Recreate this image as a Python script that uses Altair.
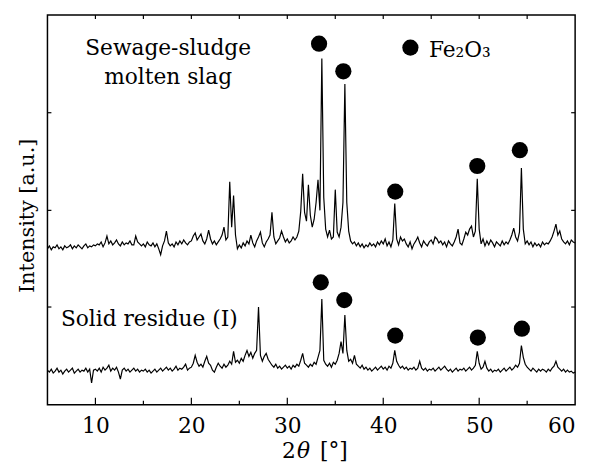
import altair as alt
import pandas as pd

# ---- data: 2-theta grid (start, step) and intensities ----
THETA_START = 5.0
THETA_STEP = 0.2

# Sewage-sludge molten slag (upper pattern), one row per 5 degrees
slag_rows = [
    [158,161,157,160,159,162,158,160,157,161,159,160,162,158,161,159,162,160,158,161,163,159,161,160,162],
    [161,163,162,165,160,164,171,163,166,162,164,167,163,161,165,162,164,163,166,162,162,171,165,163,161],
    [163,160,165,162,161,164,160,163,158,152,161,166,176,164,161,163,160,165,162,166,163,167,164,162,165],
    [166,171,174,167,170,173,166,163,168,177,168,163,166,162,165,168,172,180,167,170,226,180,212,172,158],
    [162,159,164,161,166,163,172,164,160,166,170,175,164,160,165,168,172,195,170,163,166,169,176,170,165],
    [168,164,166,170,167,170,176,196,234,195,186,223,192,180,188,205,228,197,351,210,178,170,177,168,170],
    [218,175,170,180,205,325,205,176,166,163,165,161,164,160,163,159,162,160,164,161,163,160,165,162,166],
    [163,168,161,165,160,167,204,168,162,170,166,168,163,160,165,158,163,166,170,164,160,166,163,161,165],
    [167,163,170,168,164,166,162,165,160,166,163,161,165,170,178,164,162,168,175,172,178,181,170,176,229],
    [178,163,168,161,166,162,167,164,160,165,163,161,166,162,165,163,167,172,179,170,166,175,240,178,163],
    [166,162,165,160,164,161,163,160,165,162,164,163,166,170,176,183,172,176,168,165,163,166,162,167,165,164],
]

# Solid residue (I) (lower pattern)
residue_rows = [
    [35,33,36,32,34,37,33,35,31,34,36,33,35,37,32,34,36,33,35,34,37,33,36,22,35],
    [36,34,37,33,38,35,37,40,34,37,35,38,33,26,35,37,34,36,33,35,37,34,36,33,35],
    [34,36,33,35,32,34,36,33,35,37,34,36,38,35,37,34,36,39,35,37,36,38,41,35,37],
    [38,42,50,43,39,41,38,44,49,42,40,35,33,38,42,39,37,41,38,40,44,41,54,43,45],
    [42,47,44,50,55,49,53,47,52,55,99,50,44,49,52,46,43,40,38,41,37,39,36,38,40],
    [37,39,36,40,38,41,39,45,52,42,40,38,41,39,43,41,48,55,107,45,41,39,42,38,43],
    [41,45,52,64,52,91,55,44,46,42,50,41,39,37,40,36,38,35,37,34,36,38,35,37,39],
    [36,38,35,39,37,42,55,44,40,37,39,36,38,35,37,36,38,35,37,44,37,35,37,34,36],
    [35,37,34,36,38,35,37,39,36,34,36,33,35,37,34,36,35,37,34,36,38,35,37,40,54],
    [42,36,38,44,37,34,36,33,35,34,36,33,35,37,34,36,38,35,37,40,38,42,60,48,41],
    [38,36,34,37,35,33,36,34,36,35,33,36,34,37,39,44,38,36,34,36,33,35,33,34,32,33],
]

# Fe2O3 markers (upper five, lower five, legend symbol)
marker_theta = [33.31, 35.84, 41.25, 49.80, 54.24, 33.49, 35.94, 41.25, 49.86, 54.45, 42.83]
marker_int = [366, 338, 216, 242, 258, 124, 106, 70, 68, 77, 362]

# annotations
center_labels = ["Sewage-sludge", "molten slag"]
center_theta = [17.58, 17.58]
center_int = [355, 325]
left_labels = ["Solid residue (I)", "Fe\u2082O\u2083"]
left_theta = [6.40, 44.76]
left_int = [80, 352]

x_tick_labels = [10, 20, 30, 40, 50, 60]
x_major_ticks = [10, 20, 30, 40, 50]
x_minor_ticks = [15, 25, 35, 45, 55]
x_top_ticks = [10, 15, 20, 25, 30, 35, 40, 45, 50, 55]
y_ticks = [99, 197, 296]

FONT = "DejaVu Serif"

slag = sum(slag_rows, [])
residue = sum(residue_rows, [])
theta = [round(THETA_START + THETA_STEP * i, 1) for i in range(len(slag))]

traces = pd.DataFrame({
    "theta": theta + theta,
    "intensity": slag + residue,
    "sample": ["slag"] * len(slag) + ["residue"] * len(residue),
})
markers = pd.DataFrame({"theta": marker_theta, "intensity": marker_int})
ctext = pd.DataFrame({"theta": center_theta, "intensity": center_int, "label": center_labels})
ltext = pd.DataFrame({"theta": left_theta, "intensity": left_int, "label": left_labels})

X = alt.X(
    "theta:Q",
    scale=alt.Scale(domain=[5, 60], nice=False, zero=False),
    axis=alt.Axis(
        values=x_tick_labels, title=None, ticks=False, tickSize=0, domain=False, grid=False,
        labelFont=FONT, labelFontSize=22, labelColor="black", labelPadding=28,
        labelBaseline="alphabetic", labelFlush=True, labelOverlap=False,
    ),
)
Y = alt.Y(
    "intensity:Q",
    scale=alt.Scale(domain=[0, 395], nice=False, zero=False),
    axis=alt.Axis(
        labels=False, ticks=False, domain=False, grid=False,
        title="Intensity [a.u.]", titleFont=FONT, titleFontSize=21, titleFontWeight="normal",
        titleColor="black", titleX=-14, titleY=203, titleAngle=270,
        titleAlign="center", titleBaseline="alphabetic",
    ),
)

lines = alt.Chart(traces).mark_line(color="black", strokeWidth=1.2).encode(
    x=X, y=Y, detail="sample:N"
)
points = alt.Chart(markers).mark_circle(color="black", opacity=1, size=270).encode(x=X, y=Y)

text_c = alt.Chart(ctext).mark_text(
    font=FONT, fontSize=22, align="center", baseline="alphabetic", color="black"
).encode(x=X, y=Y, text="label:N")
text_l = alt.Chart(ltext).mark_text(
    font=FONT, fontSize=22, align="left", baseline="alphabetic", color="black"
).encode(x=X, y=Y, text="label:N")

# x-axis title "2θ [°]" with italic theta
xt_normal = pd.DataFrame({"theta": [29.46, 33.4], "label": ["2", "[\u00b0]"]})
xt_italic = pd.DataFrame({"theta": [31.0], "label": ["\u03b8"]})
xtitle1 = alt.Chart(xt_normal).mark_text(
    font=FONT, fontSize=22, align="left", baseline="alphabetic", color="black"
).encode(x=X, y=alt.value(449), text="label:N")
xtitle2 = alt.Chart(xt_italic).mark_text(
    font=FONT, fontSize=22, fontStyle="italic", align="left", baseline="alphabetic", color="black"
).encode(x=X, y=alt.value(449), text="label:N")

# inward ticks
tick_style = dict(color="black", strokeWidth=1.2)
bmaj = alt.Chart(pd.DataFrame({"theta": x_major_ticks})).mark_rule(**tick_style).encode(
    x=X, y=alt.value(395), y2=alt.value(388))
bmin = alt.Chart(pd.DataFrame({"theta": x_minor_ticks})).mark_rule(**tick_style).encode(
    x=X, y=alt.value(395), y2=alt.value(391))
tops = alt.Chart(pd.DataFrame({"theta": x_top_ticks})).mark_rule(**tick_style).encode(
    x=X, y=alt.value(0), y2=alt.value(4))
lefts = alt.Chart(pd.DataFrame({"intensity": y_ticks})).mark_rule(**tick_style).encode(
    y=Y, x=alt.value(0), x2=alt.value(4))
rights = alt.Chart(pd.DataFrame({"intensity": y_ticks})).mark_rule(**tick_style).encode(
    y=Y, x=alt.value(535), x2=alt.value(531))

chart = alt.layer(
    lines, points, text_c, text_l, xtitle1, xtitle2, bmaj, bmin, tops, lefts, rights
).properties(
    width=535, height=395,
    autosize=alt.AutoSizeParams(type="none"),
    padding={"left": 40, "top": 4, "right": 9, "bottom": 58},
    background="white",
).configure(
    font=FONT
).configure_view(
    stroke="black", strokeWidth=1.5
)

chart.save("out.html", embed_options={"renderer": "svg", "actions": False})
